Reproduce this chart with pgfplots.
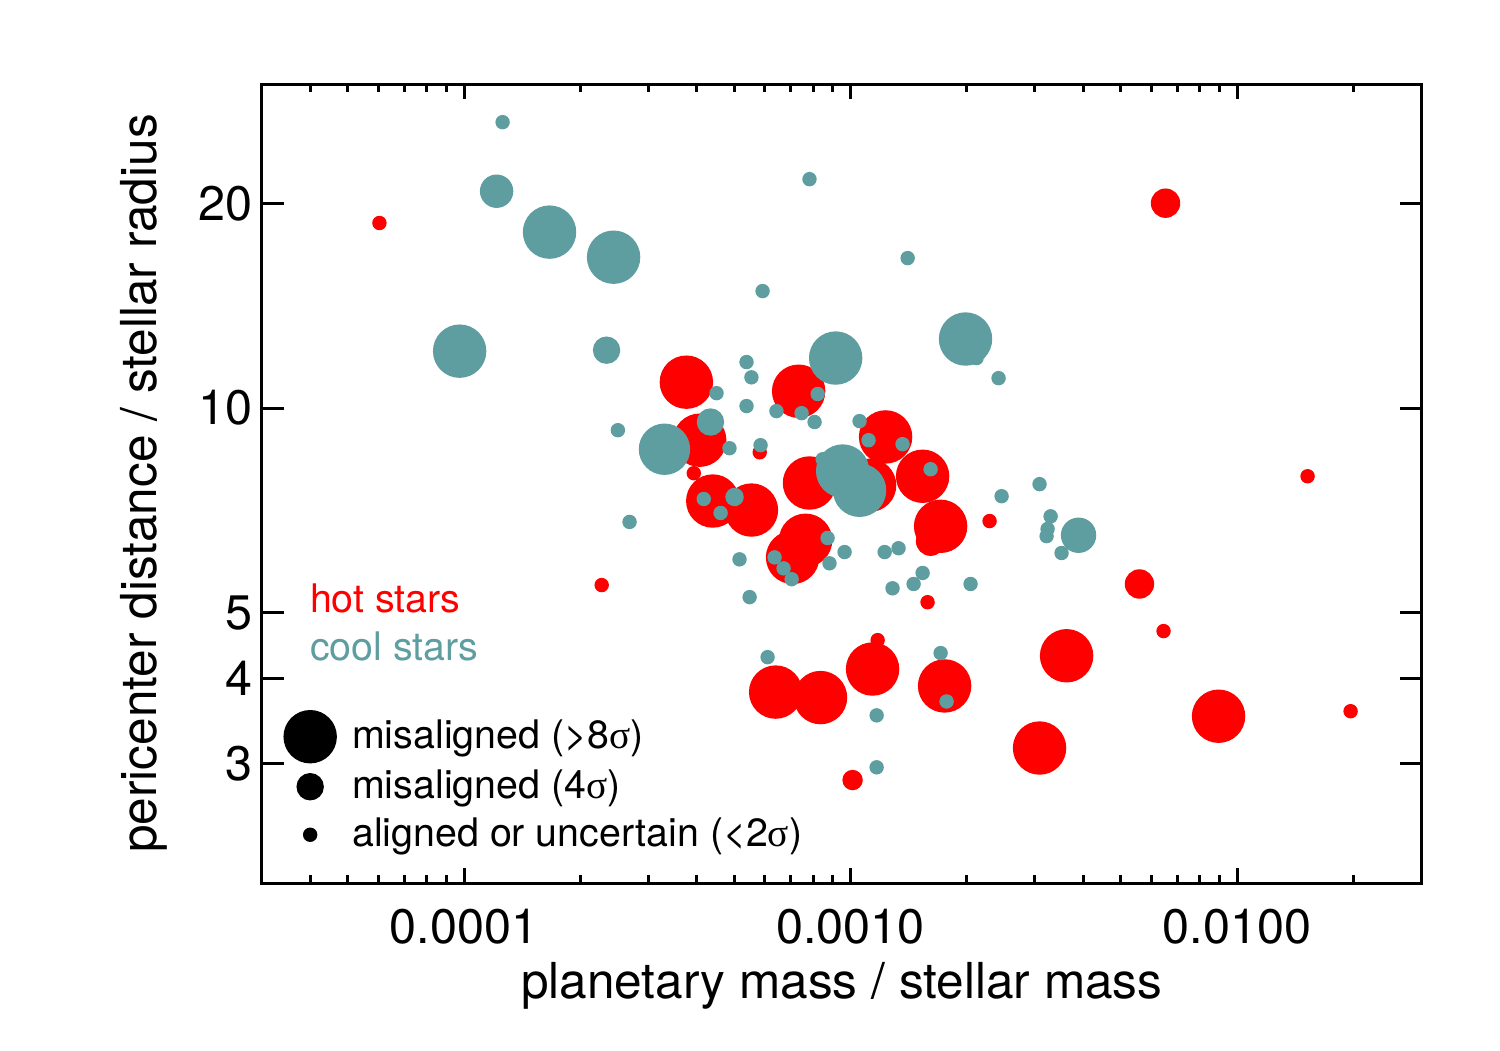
\documentclass[border=0pt]{standalone}
\usepackage{fontspec}
\setmainfont{TeX Gyre Heros}
\newfontfamily\greek{Liberation Serif}
\usepackage{pgfplots}
\pgfplotsset{compat=1.18}
\usepackage{pgfplotstable}

\definecolor{hot}{RGB}{255,0,0}
\definecolor{cool}{RGB}{95,158,160}

\newcommand{\tickfont}{\fontsize{13.8}{16}\selectfont}
\newcommand{\labfont}{\fontsize{14.1}{17}\selectfont}
\newcommand{\keyfont}{\fontsize{11.2}{13.5}\selectfont}

% columns: planetary mass / stellar mass, pericenter distance / stellar radius,
% marker radius in mm (2.6 = misaligned >8 sigma, ~1.4 = 4 sigma, 0.65 = aligned)
\pgfplotstableread{
x        y      r
3.76e-4  10.92  2.6
4.07e-4  8.97   2.6
7.34e-4  10.59  2.6
4.40e-4  7.30   2.6
5.54e-4  7.08   2.6
7.83e-4  7.76   2.6
7.65e-4  6.39   2.6
7.08e-4  6.03   2.6
1.232e-3 9.07   2.6
1.536e-3 7.94   2.6
1.120e-3 7.70   2.6
1.611e-3 6.37   1.4
1.710e-3 6.70   2.6
6.40e-4  3.82   2.6
8.36e-4  3.75   2.6
1.140e-3 4.13   2.6
1.751e-3 3.90   2.6
3.083e-3 3.16   2.6
3.622e-3 4.32   2.6
8.955e-3 3.52   2.6
6.53e-3  20.03  1.4
5.59e-3  5.51   1.4
1.012e-3 2.835  0.95
6.04e-5  18.73  0.65
2.27e-4  5.49   0.65
3.93e-4  8.02   0.65
5.82e-4  8.61   0.65
2.289e-3 6.82   0.65
1.582e-3 5.18   0.65
1.175e-3 4.555  0.65
6.453e-3 4.697  0.65
1.522e-2 7.94   0.65
1.967e-2 3.58   0.65
}\hotstars

\pgfplotstableread{
x        y      r
9.74e-5  12.13  2.6
1.664e-4 18.16  2.6
2.437e-4 16.68  2.6
3.30e-4  8.70   2.5
9.15e-4  11.85  2.6
2.118e-3 11.85  0.65
1.984e-3 12.64  2.6
8.47e-4  8.41   0.65
9.54e-4  8.08   2.6
1.055e-3 7.57   2.6
1.214e-4 20.86  1.6
2.337e-4 12.17  1.3
4.34e-4  9.54   1.3
3.890e-3 6.50   1.7
5.01e-4  7.40   0.85
1.258e-4 26.36  0.65
7.83e-4  21.73  0.65
1.405e-3 16.63  0.65
5.92e-4  14.87  0.65
5.38e-4  11.69  0.65
5.54e-4  11.10  0.65
4.50e-4  10.52  0.65
5.38e-4  10.07  0.65
6.43e-4  9.90   0.65
7.47e-4  9.83   0.65
8.22e-4  10.49  0.65
8.07e-4  9.54   0.65
4.86e-4  8.73   0.65
5.85e-4  8.82   0.65
2.50e-4  9.28   0.65
2.68e-4  6.80   0.65
4.17e-4  7.35   0.65
4.61e-4  7.01   0.65
5.16e-4  5.99   0.65
5.48e-4  5.27   0.65
6.36e-4  6.03   0.65
6.71e-4  5.81   0.65
7.04e-4  5.60   0.65
8.72e-4  6.44   0.65
8.82e-4  5.91   0.65
9.65e-4  6.14   0.65
1.055e-3 9.57   0.65
1.113e-3 8.97   0.65
1.363e-3 8.85   0.65
1.611e-3 8.13   0.65
2.415e-3 11.07  0.65
2.459e-3 7.42   0.65
3.083e-3 7.73   0.65
3.293e-3 6.93   0.65
3.234e-3 6.64   0.65
3.215e-3 6.48   0.65
3.515e-3 6.12   0.65
1.225e-3 6.14   0.65
1.331e-3 6.22   0.65
1.284e-3 5.43   0.65
1.456e-3 5.51   0.65
1.536e-3 5.72   0.65
2.044e-3 5.51   0.65
6.10e-4  4.30   0.65
1.710e-3 4.36   0.65
1.772e-3 3.70   0.65
1.168e-3 3.53   0.65
1.168e-3 2.96   0.65
}\coolstars

\begin{document}
\begin{tikzpicture}
\path[use as bounding box] (-26.2mm,-16.7mm) rectangle (123.8mm,88.3mm);
\begin{axis}[
  at={(0,0)}, anchor=south west,
  scale only axis, width=115.95mm, height=79.9mm,
  xmode=log, ymode=log,
  xmin=3e-5, xmax=3e-2, ymin=2, ymax=30,
  axis line style={black, line width=0.3mm},
  tick style={black, line width=0.3mm},
  tick align=inside,
  major tick length=2.2mm, minor tick length=0.8mm,
  xtick style={/pgfplots/major tick length=1.55mm, /pgfplots/minor tick length=0.8mm},
  xtick={1e-4,1e-3,1e-2},
  xticklabels={0.0001,0.0010,0.0100},
  minor xtick={4e-5,5e-5,6e-5,7e-5,8e-5,9e-5,2e-4,3e-4,4e-4,5e-4,6e-4,7e-4,8e-4,9e-4,
               2e-3,3e-3,4e-3,5e-3,6e-3,7e-3,8e-3,9e-3,2e-2},
  ytick={3,4,5,10,20},
  yticklabels={3,4,5,10,20},
  minor ytick={},
  /pgf/number format/assume math mode=true,
  xticklabel style={font=\tickfont, yshift=-1.4mm},
  yticklabel style={font=\tickfont, xshift=0.3mm},
  xlabel={planetary mass / stellar mass},
  ylabel={pericenter distance / stellar radius},
  xlabel style={font=\labfont, at={([yshift=-11.5mm]axis description cs:0.5,0)}, anchor=base},
  ylabel style={font=\labfont, at={([xshift=-10.5mm]axis description cs:0,0.5)}, anchor=base},
  legend style={at={(0.01854,0.2165)}, anchor=north west,
    draw=none, fill=none, inner sep=0pt, column sep=0.9mm, row sep=0pt,
    font=\keyfont, cells={anchor=west}},
]
% hot stars first, cool stars on top
\addplot[scatter, only marks, mark=*, forget plot,
  scatter/use mapped color={draw=hot, fill=hot},
  visualization depends on={\thisrow{r} \as \rad},
  scatter/@pre marker code/.append style={/tikz/mark size=\rad mm}]
  table[x=x, y=y] {\hotstars};
\addplot[scatter, only marks, mark=*, forget plot,
  scatter/use mapped color={draw=cool, fill=cool},
  visualization depends on={\thisrow{r} \as \rad},
  scatter/@pre marker code/.append style={/tikz/mark size=\rad mm}]
  table[x=x, y=y] {\coolstars};

\addlegendimage{only marks, mark=*, black, mark size=2.6mm}
\addlegendentry{misaligned (>8{\greek σ})}
\addlegendimage{only marks, mark=*, black, mark size=1.3mm}
\addlegendentry{misaligned (4{\greek σ})}
\addlegendimage{only marks, mark=*, black, mark size=0.65mm}
\addlegendentry{aligned or uncertain (<2{\greek σ})}

\node[anchor=base west, inner sep=0pt, text=hot, font=\keyfont]
  at ([xshift=4.74mm, yshift=27.0mm]axis description cs:0,0) {hot stars};
\node[anchor=base west, inner sep=0pt, text=cool, font=\keyfont]
  at ([xshift=4.74mm, yshift=22.3mm]axis description cs:0,0) {cool stars};
\end{axis}
\end{tikzpicture}
\end{document}
